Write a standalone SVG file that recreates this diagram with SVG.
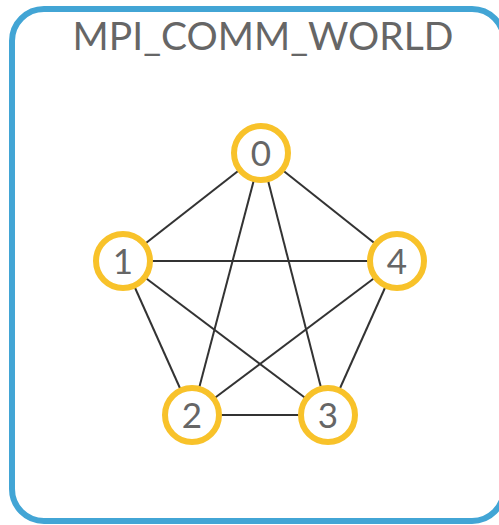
<svg xmlns="http://www.w3.org/2000/svg" width="499" height="525" viewBox="0 0 499 525">
  <style>
    .frame { fill: #ffffff; stroke: #42a5d5; stroke-width: 6; }
    .title { font-family: Lato, "Open Sans", sans-serif; font-size: 39px; fill: #666666; text-anchor: middle; }
    .edge { stroke: #333333; stroke-width: 2; fill: none; }
    .rank circle { fill: #ffffff; stroke: #f8c22a; stroke-width: 6; }
    .rank text { font-family: Lato, "Open Sans", sans-serif; font-size: 35px; fill: #666666; text-anchor: middle; }
  </style>
  <rect class="frame" x="12" y="9" width="492" height="512" rx="32" ry="32"/>
  <text class="title" x="263" y="50">MPI_COMM_WORLD</text>
  <g id="connectors">
    <line class="edge" x1="261" y1="153" x2="123" y2="261"/>
    <line class="edge" x1="261" y1="153" x2="397" y2="261"/>
    <line class="edge" x1="261" y1="153" x2="192" y2="415"/>
    <line class="edge" x1="261" y1="153" x2="328" y2="415"/>
    <line class="edge" x1="123" y1="261" x2="397" y2="261"/>
    <line class="edge" x1="123" y1="261" x2="192" y2="415"/>
    <line class="edge" x1="123" y1="261" x2="328" y2="415"/>
    <line class="edge" x1="397" y1="261" x2="192" y2="415"/>
    <line class="edge" x1="397" y1="261" x2="328" y2="415"/>
    <line class="edge" x1="192" y1="415" x2="328" y2="415"/>
  </g>
  <g id="rank0" class="rank"><circle cx="261" cy="153" r="27"/><text x="261" y="165.5">0</text></g>
  <g id="rank1" class="rank"><circle cx="123" cy="261" r="27"/><text x="123" y="273.5">1</text></g>
  <g id="rank4" class="rank"><circle cx="397" cy="261" r="27"/><text x="397" y="273.5">4</text></g>
  <g id="rank2" class="rank"><circle cx="192" cy="415" r="27"/><text x="192" y="427.5">2</text></g>
  <g id="rank3" class="rank"><circle cx="328" cy="415" r="27"/><text x="328" y="427.5">3</text></g>
</svg>
